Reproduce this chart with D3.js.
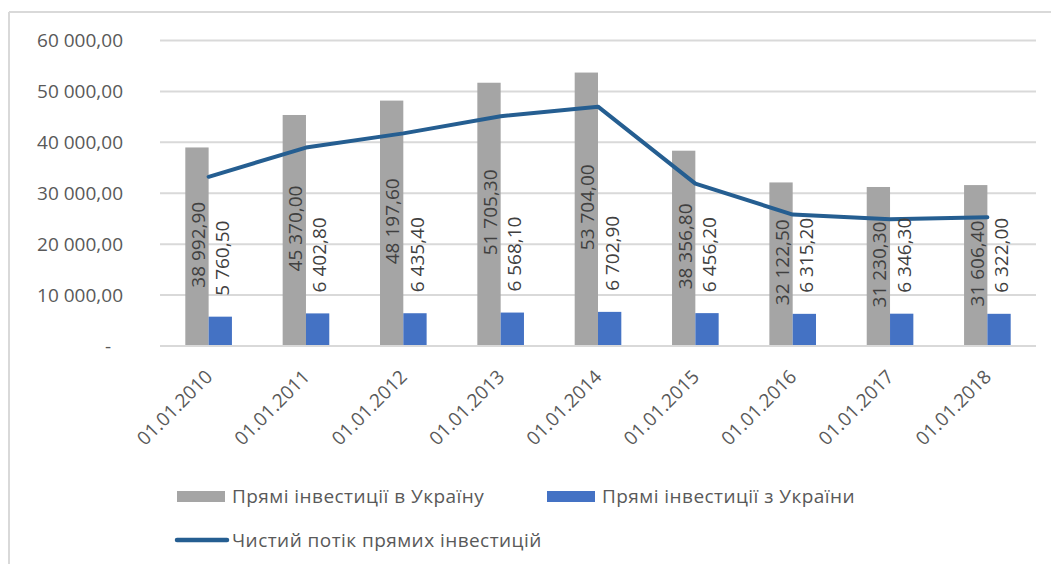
<!DOCTYPE html>
<html>
<head>
<meta charset="utf-8">
<script src="https://cdn.jsdelivr.net/npm/d3@7"></script>
<style>
  html, body { margin: 0; padding: 0; background: #fff; }
  svg { display: block; }
  text { font-family: "Open Sans", "Noto Sans", sans-serif; }
</style>
</head>
<body>
<svg id="chart" width="1051" height="564"></svg>
<script>
const categories = ["01.01.2010","01.01.2011","01.01.2012","01.01.2013","01.01.2014","01.01.2015","01.01.2016","01.01.2017","01.01.2018"];
const inflow  = [38992.90, 45370.00, 48197.60, 51705.30, 53704.00, 38356.80, 32122.50, 31230.30, 31606.40];
const outflow = [5760.50, 6402.80, 6435.40, 6568.10, 6702.90, 6456.20, 6315.20, 6346.30, 6322.00];
const netFlow = [33232.40, 38967.20, 41762.20, 45137.20, 47001.10, 31900.60, 25807.30, 24884.00, 25284.40];
const yTicks  = [0, 10000, 20000, 30000, 40000, 50000, 60000];
const seriesNames = ["Прямі інвестиції в Україну", "Прямі інвестиції з України", "Чистий потік прямих інвестицій"];
const colors = ["#a5a5a5", "#4472c4", "#255e91"];

const svg = d3.select("#chart");
const W = 1051, H = 564;
const plot = {left: 160, right: 1036, top: 40.5, bottom: 346};

// chart border (top & left visible)
svg.append("line").attr("x1", 9).attr("x2", W).attr("y1", 12).attr("y2", 12)
  .attr("stroke", "#d9d9d9").attr("stroke-width", 2);
svg.append("line").attr("x1", 9).attr("x2", 9).attr("y1", 12).attr("y2", H)
  .attr("stroke", "#d9d9d9").attr("stroke-width", 2);

const x = d3.scaleBand().domain(categories).range([plot.left, plot.right])
  .paddingInner(0.521).paddingOuter(0.26);
const x1 = d3.scaleBand().domain([0, 1]).range([0, x.bandwidth()]);
const y = d3.scaleLinear().domain([0, 60000]).range([plot.bottom, plot.top]);

const fmt = v => {
  const s = d3.format(",.2f")(v);
  return s.replace(/,/g, " ").replace(".", ",");
};

// gridlines
svg.append("g").selectAll("line").data(yTicks.filter(d => d > 0)).join("line")
  .attr("x1", plot.left).attr("x2", plot.right)
  .attr("y1", d => y(d)).attr("y2", d => y(d))
  .attr("stroke", "#d9d9d9").attr("stroke-width", 2);

// y axis labels
const yAxis = d3.axisLeft(y).tickValues(yTicks).tickSize(0).tickPadding(0)
  .tickFormat(d => d === 0 ? "-" : fmt(d));
const yg = svg.append("g").attr("transform", `translate(123,0)`).call(yAxis);
yg.select(".domain").remove();
yg.selectAll("text").attr("fill", "#595959").attr("font-size", 19)
  .attr("font-family", "'Open Sans', sans-serif")
  .attr("x", d => d === 0 ? -12 : 0);

// bars
const cc = categories.map((c, i) => ({c, i}));
svg.append("g").selectAll("rect").data(cc).join("rect")
  .attr("x", d => x(d.c) + x1(0)).attr("width", x1.bandwidth())
  .attr("y", d => y(inflow[d.i])).attr("height", d => y(0) - y(inflow[d.i]))
  .attr("fill", colors[0]);
svg.append("g").selectAll("rect").data(cc).join("rect")
  .attr("x", d => x(d.c) + x1(1)).attr("width", x1.bandwidth())
  .attr("y", d => y(outflow[d.i])).attr("height", d => y(0) - y(outflow[d.i]))
  .attr("fill", colors[1]);

// baseline
svg.append("line").attr("x1", plot.left).attr("x2", plot.right)
  .attr("y1", y(0)).attr("y2", y(0)).attr("stroke", "#d9d9d9").attr("stroke-width", 2);

// net flow line
const line = d3.line().x(d => x(d.c) + x.bandwidth() / 2).y(d => y(netFlow[d.i]));
svg.append("path").datum(cc).attr("d", line)
  .attr("fill", "none").attr("stroke", colors[2]).attr("stroke-width", 4)
  .attr("stroke-linejoin", "round").attr("stroke-linecap", "round");

// data labels
svg.append("g").selectAll("text").data(cc).join("text")
  .attr("transform", d => {
    const cx = x(d.c) + x1(0) + x1.bandwidth() / 2 + 1;
    const cy = (y(inflow[d.i]) + y(0)) / 2 - 2;
    return `translate(${cx},${cy}) rotate(-90)`;
  })
  .attr("text-anchor", "middle").attr("dy", "0.36em")
  .attr("font-size", 19).attr("fill", "#404040")
  .text(d => fmt(inflow[d.i]));
svg.append("g").selectAll("text").data(cc).join("text")
  .attr("transform", d => {
    const cx = x(d.c) + x1(1) + x1.bandwidth() / 2 + 2;
    const cy = y(outflow[d.i]) - 21;
    return `translate(${cx},${cy}) rotate(-90)`;
  })
  .attr("text-anchor", "start").attr("dy", "0.36em")
  .attr("font-size", 19).attr("fill", "#404040")
  .text(d => fmt(outflow[d.i]));

// x axis labels
const xAxis = d3.axisBottom(x).tickSize(0).tickPadding(0);
const xg = svg.append("g").attr("transform", `translate(0,${y(0)})`).call(xAxis);
xg.select(".domain").remove();
xg.selectAll("text")
  .attr("font-size", 19).attr("fill", "#595959")
  .attr("font-family", "'Open Sans', sans-serif")
  .attr("text-anchor", "end").attr("dy", 0).attr("y", 0)
  .attr("transform", "translate(5,32) rotate(-45)");

// legend
const lg = svg.append("g").attr("letter-spacing", "0.45px");
lg.append("rect").attr("x", 177).attr("y", 491).attr("width", 48).attr("height", 11).attr("fill", colors[0]);
lg.append("text").attr("x", 232).attr("y", 496.5).attr("dy", "0.35em")
  .attr("font-size", 19).attr("fill", "#595959").text(seriesNames[0]);
lg.append("rect").attr("x", 547).attr("y", 491).attr("width", 48).attr("height", 11).attr("fill", colors[1]);
lg.append("text").attr("x", 602).attr("y", 496.5).attr("dy", "0.35em")
  .attr("font-size", 19).attr("fill", "#595959").text(seriesNames[1]);
lg.append("line").attr("x1", 177).attr("x2", 227).attr("y1", 540).attr("y2", 540)
  .attr("stroke", colors[2]).attr("stroke-width", 4.5).attr("stroke-linecap", "round");
lg.append("text").attr("x", 232).attr("y", 540).attr("dy", "0.35em")
  .attr("font-size", 19).attr("fill", "#595959").text(seriesNames[2]);
</script>
</body>
</html>
